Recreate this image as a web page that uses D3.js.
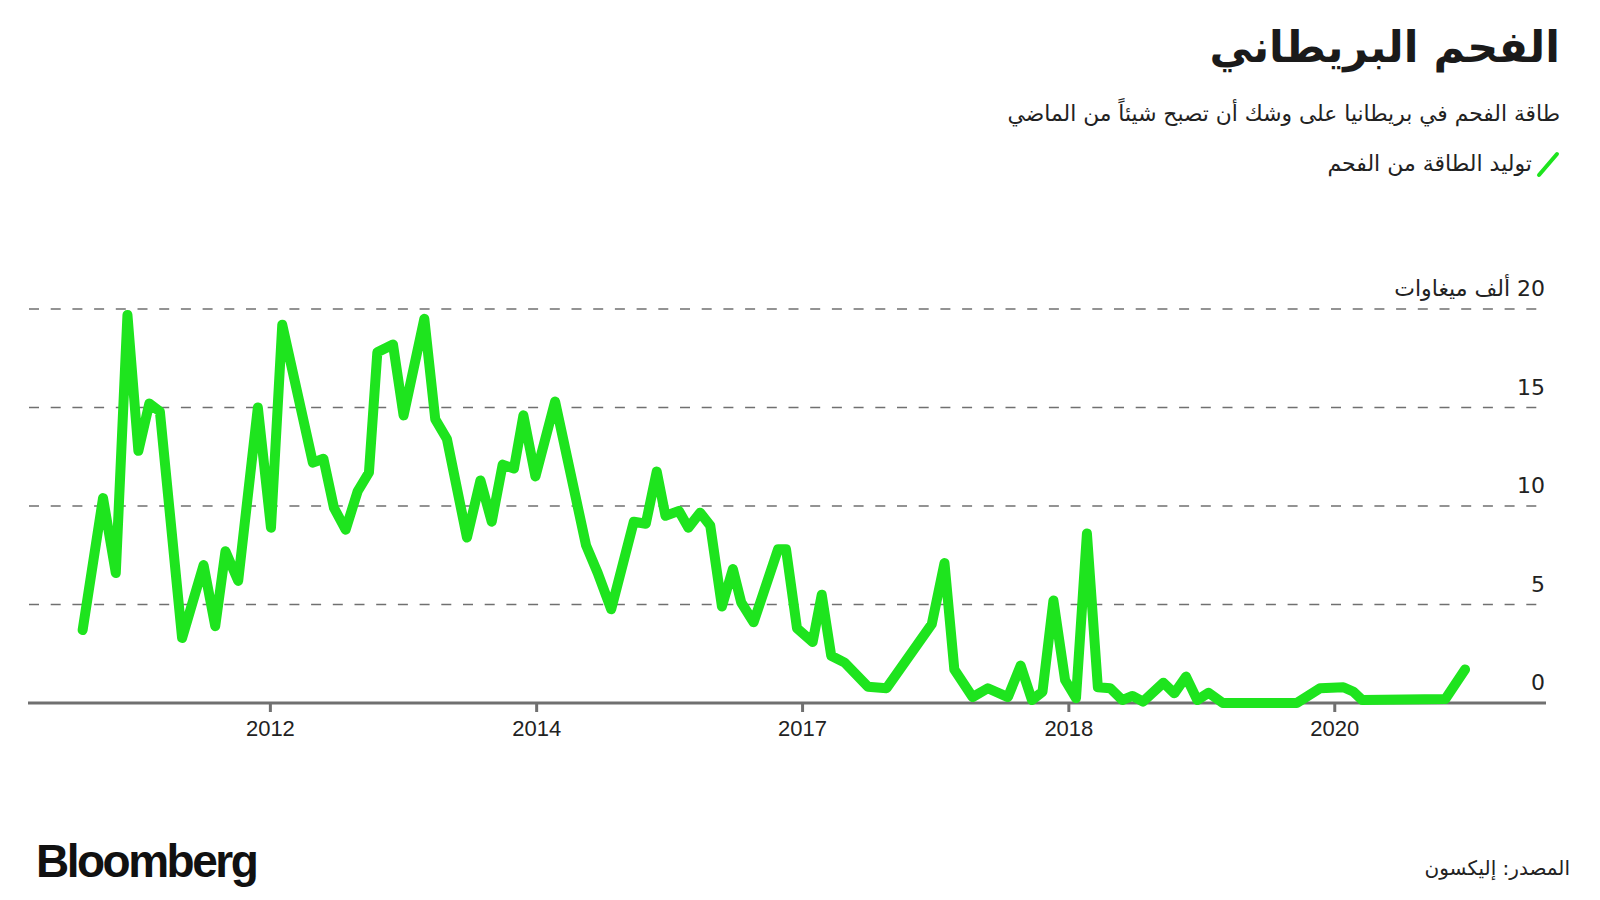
<!DOCTYPE html>
<html>
<head>
<meta charset="utf-8">
<script src="https://cdn.jsdelivr.net/npm/d3@7"></script>
<style>
    html, body { margin: 0; padding: 0; background: #fff; }
    svg { display: block; }
</style>
</head>
<body>
<div id="chart"></div>
<script>
// 数据 (thousand MW, coal generation)
var dates = [
    "2010-08-05", "2010-09-30", "2010-11-04", "2010-12-06", "2011-01-05", "2011-02-04", "2011-03-05",
    "2011-05-05", "2011-07-03", "2011-08-04", "2011-09-01", "2011-10-06", "2011-11-29", "2012-01-04",
    "2012-02-04", "2012-04-28", "2012-05-27", "2012-06-25", "2012-07-27", "2012-08-29", "2012-09-29",
    "2012-10-22", "2012-12-04", "2013-01-02", "2013-02-28", "2013-03-30", "2013-05-01", "2013-06-25",
    "2013-08-01", "2013-09-01", "2013-10-01", "2013-11-01", "2013-11-27", "2013-12-30", "2014-02-22",
    "2014-05-18", "2014-06-19", "2014-07-26", "2014-09-26", "2014-10-29", "2014-11-28", "2014-12-22",
    "2015-01-28", "2015-02-23", "2015-03-27", "2015-04-24", "2015-05-26", "2015-06-25", "2015-07-18",
    "2015-08-21", "2015-10-27", "2015-11-18", "2015-12-18", "2016-01-30", "2016-02-24", "2016-03-21",
    "2016-04-27", "2016-06-30", "2016-08-20", "2016-12-22", "2017-01-26", "2017-02-22", "2017-04-13",
    "2017-05-25", "2017-07-19", "2017-08-23", "2017-09-23", "2017-10-22", "2017-11-21", "2017-12-23",
    "2018-01-22", "2018-02-21", "2018-03-23", "2018-04-26", "2018-05-29", "2018-06-26", "2018-07-25",
    "2018-09-19", "2018-10-19", "2018-11-20", "2018-12-21", "2019-01-21", "2019-03-01", "2019-09-20",
    "2019-11-23", "2020-01-26", "2020-02-23", "2020-03-18", "2020-11-01", "2020-12-25"
];
var coal = [
    3.7, 10.4, 6.6, 19.7, 12.8, 15.2, 14.8,
    3.3, 7.0, 3.9, 7.7, 6.2, 15.0, 8.9,
    19.2, 12.2, 12.4, 9.9, 8.8, 10.75, 11.7,
    17.8, 18.2, 14.6, 19.5, 14.4, 13.4, 8.4,
    11.3, 9.2, 12.1, 11.9, 14.6, 11.5, 15.3,
    8.0, 6.6, 4.76, 9.2, 9.1, 11.75, 9.5,
    9.75, 8.9, 9.66, 9.0, 4.9, 6.8, 5.1,
    4.1, 7.8, 7.8, 3.8, 3.1, 5.5, 2.4,
    2.05, 0.83, 0.75, 4.0, 7.1, 1.7, 0.3,
    0.75, 0.3, 1.9, 0.15, 0.57, 5.2, 1.17,
    0.24, 8.6, 0.8, 0.75, 0.15, 0.36, 0.07,
    1.03, 0.49, 1.34, 0.15, 0.52, 0, 0,
    0.75, 0.8, 0.57, 0.15, 0.2, 1.7
];
var xTickDates = ["2012-01-01", "2014-01-01", "2016-01-01", "2018-01-01", "2020-01-01"];
var xTickLabels = ["2012", "2014", "2017", "2018", "2020"];
var yTicks = [0, 5, 10, 15, 20];
var yTickLabels = ["0", "5", "10", "15", "20 ألف ميغاوات"];

var title = "الفحم البريطاني";
var subtitle = "طاقة الفحم في بريطانيا على وشك أن تصبح شيئاً من الماضي";
var legendLabel = "توليد الطاقة من الفحم";
var source = "المصدر: إليكسون";

var width = 1600, height = 900;
var green = "#1ee41e", grey = "#707070";
var arabicFont = "'DejaVu Sans', 'Noto Sans', sans-serif";
var numFont = "'Liberation Sans', Arial, sans-serif";

var parseDate = d3.timeParse("%Y-%m-%d");
var data = dates.map(function (d, i) {
    return {date: parseDate(d), value: coal[i]};
});

var svg = d3.select("#chart").append("svg")
    .attr("width", width)
    .attr("height", height);

// 坐标轴比例
var xScale = d3.scaleTime()
    .domain([parseDate("2010-03-08"), parseDate("2021-08-07")])
    .range([28, 1547]);
var yScale = d3.scaleLinear()
    .domain([0, 20])
    .range([703, 309]);

// 标题
svg.append("text")
    .attr("x", 1560).attr("y", 62)
    .attr("direction", "rtl").attr("text-anchor", "start")
    .attr("font-family", arabicFont).attr("font-weight", "bold")
    .attr("font-size", 43).attr("fill", "#1a1a1a")
    .text(title);
svg.append("text")
    .attr("x", 1560).attr("y", 121)
    .attr("direction", "rtl").attr("text-anchor", "start")
    .attr("font-family", arabicFont)
    .attr("font-size", 21.8).attr("fill", "#222")
    .text(subtitle);

// 图例
svg.append("line")
    .attr("x1", 1539).attr("y1", 175).attr("x2", 1557).attr("y2", 154)
    .attr("stroke", green).attr("stroke-width", 4).attr("stroke-linecap", "round");
svg.append("text")
    .attr("x", 1532).attr("y", 171)
    .attr("direction", "rtl").attr("text-anchor", "start")
    .attr("font-family", arabicFont)
    .attr("font-size", 22).attr("fill", "#222")
    .text(legendLabel);

// 网格线
svg.append("g")
    .selectAll("line")
    .data(yTicks.filter(function (d) { return d > 0; }))
    .enter()
    .append("line")
    .attr("x1", 29).attr("x2", 1547)
    .attr("y1", function (d) { return yScale(d); })
    .attr("y2", function (d) { return yScale(d); })
    .attr("stroke", grey).attr("stroke-width", 1.5)
    .attr("stroke-dasharray", "10,11.7");

// y轴文字
svg.append("g")
    .selectAll("text")
    .data(yTicks)
    .enter()
    .append("text")
    .attr("x", 1545)
    .attr("y", function (d) { return yScale(d) - 13; })
    .attr("direction", "rtl").attr("text-anchor", "start")
    .attr("font-family", arabicFont)
    .attr("font-size", 22).attr("fill", "#222")
    .text(function (d, i) { return yTickLabels[i]; });

// x轴
var xAxis = svg.append("g")
    .attr("transform", "translate(0,703)")
    .call(d3.axisBottom(xScale)
        .tickValues(xTickDates.map(parseDate))
        .tickFormat(function (d, i) { return xTickLabels[i]; })
        .tickSize(9)
        .tickPadding(8)
        .tickSizeOuter(0));
xAxis.select(".domain").remove();
xAxis.selectAll(".tick line").attr("stroke", grey).attr("stroke-width", 3);
xAxis.selectAll(".tick text")
    .attr("font-family", numFont).attr("font-size", 22).attr("fill", "#222");
xAxis.append("line")
    .attr("x1", 28).attr("x2", 1546).attr("y1", 0).attr("y2", 0)
    .attr("stroke", grey).attr("stroke-width", 3);

// 折线
var line = d3.line()
    .x(function (d) { return xScale(d.date); })
    .y(function (d) { return yScale(d.value); });
svg.append("path")
    .datum(data)
    .attr("d", line)
    .attr("fill", "none")
    .attr("stroke", green)
    .attr("stroke-width", 10)
    .attr("stroke-linejoin", "round")
    .attr("stroke-linecap", "round");

// 底部
svg.append("text")
    .attr("x", 36).attr("y", 877)
    .attr("font-family", numFont).attr("font-weight", "bold")
    .attr("font-size", 46).attr("letter-spacing", "-2.5px").attr("fill", "#111")
    .text("Bloomberg");
svg.append("text")
    .attr("x", 1570).attr("y", 875)
    .attr("direction", "rtl").attr("text-anchor", "start")
    .attr("font-family", arabicFont)
    .attr("font-size", 20).attr("fill", "#222")
    .text(source);
</script>
</body>
</html>
